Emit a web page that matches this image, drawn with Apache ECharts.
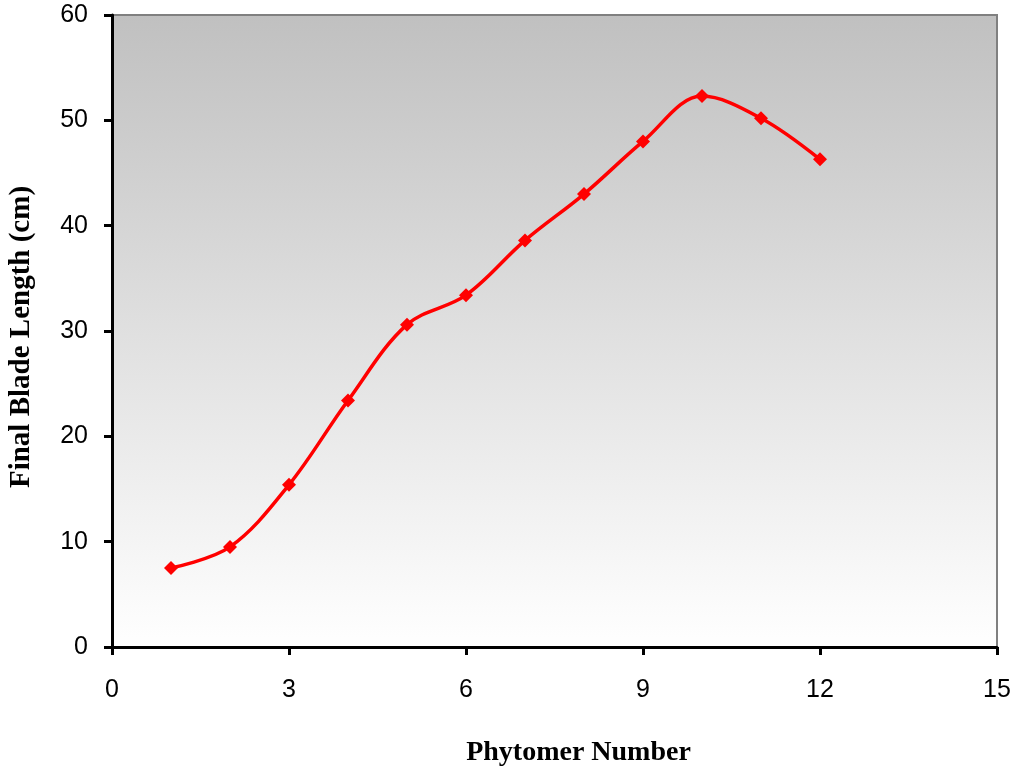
<!DOCTYPE html>
<html>
<head>
<meta charset="utf-8">
<script src="https://cdn.jsdelivr.net/npm/echarts@6/dist/echarts.min.js"></script>
<style>
  html, body { margin: 0; padding: 0; background: #ffffff; }
  #chart { width: 1017px; height: 769px; }
</style>
</head>
<body>
<div id="chart"></div>
<script>
// Final blade length per phytomer
const phytomer = [1, 2, 3, 4, 5, 6, 7, 8, 9, 10, 11, 12];
const bladeLength = [7.5, 9.5, 15.4, 23.4, 30.6, 33.4, 38.6, 43.0, 48.0, 52.3, 50.2, 46.3];
const xTicks = [0, 3, 6, 9, 12, 15];
const yTicks = [0, 10, 20, 30, 40, 50, 60];

const chart = echarts.init(document.getElementById('chart'), null, { renderer: 'canvas' });

const plotLeft = 112, plotRight = 20, plotTop = 15, plotBottom = 122;

chart.setOption({
  animation: false,
  backgroundColor: '#ffffff',
  grid: {
    left: plotLeft, right: plotRight, top: plotTop, bottom: plotBottom,
    containLabel: false,
    outerBoundsMode: 'none',
    show: true,
    backgroundColor: new echarts.graphic.LinearGradient(0, 0, 0, 1, [
      { offset: 0, color: '#c0c0c0' },
      { offset: 1, color: '#ffffff' }
    ]),
    borderColor: '#808080',
    borderWidth: 2
  },
  xAxis: {
    type: 'value',
    min: xTicks[0], max: xTicks[xTicks.length - 1], interval: 3,
    name: 'Phytomer Number',
    nameLocation: 'middle',
    nameGap: 92,
    nameTextStyle: { fontFamily: 'Liberation Serif', fontWeight: 'bold', fontSize: 28, color: '#000', padding: [0, 0, 0, 48] },
    axisLine: { show: true, onZero: false, lineStyle: { color: '#000', width: 3 } },
    axisTick: { show: true, length: 8, lineStyle: { color: '#000', width: 3 } },
    axisLabel: { fontFamily: 'Liberation Sans', fontSize: 25, color: '#000', margin: 31 },
    splitLine: { show: false }
  },
  yAxis: {
    type: 'value',
    min: yTicks[0], max: yTicks[yTicks.length - 1], interval: 10,
    name: 'Final Blade Length (cm)',
    nameLocation: 'middle',
    nameGap: 76,
    nameRotate: 90,
    nameTextStyle: { fontFamily: 'Liberation Serif', fontWeight: 'bold', fontSize: 29, color: '#000', padding: [0, 12, 0, 0] },
    axisLine: { show: true, onZero: false, lineStyle: { color: '#000', width: 3 } },
    axisTick: { show: true, length: 8, lineStyle: { color: '#000', width: 3 } },
    axisLabel: { fontFamily: 'Liberation Sans', fontSize: 25, color: '#000', margin: 24 },
    splitLine: { show: false }
  },
  series: [{
    type: 'line',
    data: phytomer.map((x, i) => [x, bladeLength[i]]),
    smooth: 0.35,
    symbol: 'diamond',
    symbolSize: 14,
    itemStyle: { color: '#ff0000' },
    lineStyle: { color: '#ff0000', width: 3.5 }
  }]
});
</script>
</body>
</html>
